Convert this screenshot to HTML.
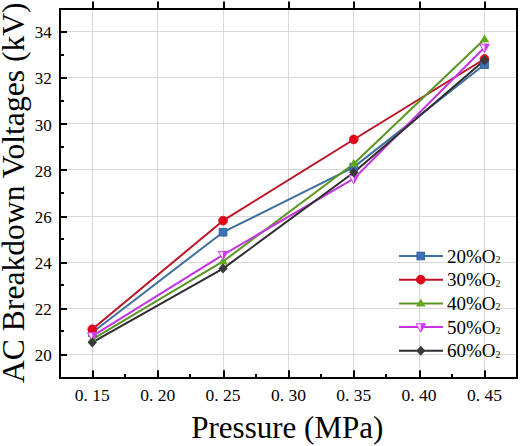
<!DOCTYPE html><html><head><meta charset="utf-8"><style>html,body{margin:0;padding:0;background:#fff;}svg{display:block;}</style></head><body>
<svg width="520" height="446" viewBox="0 0 520 446" font-family='"Liberation Serif", serif'>
<rect width="520" height="446" fill="#fff"/>
<path d="M92.50 9.00V378.00M157.50 9.00V378.00M223.50 9.00V378.00M288.50 9.00V378.00M353.50 9.00V378.00M419.50 9.00V378.00M484.50 9.00V378.00M60.00 354.50H517.00M60.00 308.50H517.00M60.00 262.50H517.00M60.00 216.50H517.00M60.00 169.50H517.00M60.00 123.50H517.00M60.00 77.50H517.00M60.00 31.50H517.00" stroke="#d8d8d8" stroke-width="1" fill="none"/>
<path d="M93.00 378.00V370.20M93.00 9.00V1.50M158.00 378.00V370.20M158.00 9.00V1.50M224.00 378.00V370.20M224.00 9.00V1.50M289.00 378.00V370.20M289.00 9.00V1.50M354.00 378.00V370.20M354.00 9.00V1.50M420.00 378.00V370.20M420.00 9.00V1.50M485.00 378.00V370.20M485.00 9.00V1.50M125.00 378.00V374.00M190.00 378.00V374.00M256.00 378.00V374.00M321.00 378.00V374.00M386.00 378.00V374.00M452.00 378.00V374.00M60.00 355.00H67.00M60.00 309.00H67.00M60.00 263.00H67.00M60.00 217.00H67.00M60.00 170.00H67.00M60.00 124.00H67.00M60.00 78.00H67.00M60.00 32.00H67.00M60.00 331.00H64.00M60.00 285.00H64.00M60.00 239.00H64.00M60.00 193.00H64.00M60.00 147.00H64.00M60.00 101.00H64.00M60.00 55.00H64.00" stroke="#000" stroke-width="2" fill="none"/>
<rect x="60.00" y="9.00" width="457.00" height="369.00" stroke="#000" stroke-width="2.0" fill="none"/>
<polyline points="92.30,332.49 223.03,232.18 353.76,167.15 484.49,64.54" stroke="#3f6f9f" stroke-width="2" fill="none" stroke-linejoin="round"/>
<polyline points="92.30,329.26 223.03,220.65 353.76,139.48 484.49,59.00" stroke="#bc1426" stroke-width="2" fill="none" stroke-linejoin="round"/>
<polyline points="92.30,339.41 223.03,261.47 353.76,163.69 484.49,39.17" stroke="#5a9622" stroke-width="2" fill="none" stroke-linejoin="round"/>
<polyline points="92.30,336.18 223.03,254.78 353.76,178.68 484.49,47.47" stroke="#c435e0" stroke-width="2" fill="none" stroke-linejoin="round"/>
<polyline points="92.30,342.41 223.03,268.62 353.76,172.46 484.49,60.15" stroke="#2e2e2e" stroke-width="2" fill="none" stroke-linejoin="round"/>
<rect x="88.40" y="328.59" width="7.80" height="7.80" fill="#3a72b5" stroke="#2f5f95" stroke-width="0.8"/>
<rect x="219.13" y="228.28" width="7.80" height="7.80" fill="#3a72b5" stroke="#2f5f95" stroke-width="0.8"/>
<rect x="349.86" y="163.25" width="7.80" height="7.80" fill="#3a72b5" stroke="#2f5f95" stroke-width="0.8"/>
<rect x="480.59" y="60.64" width="7.80" height="7.80" fill="#3a72b5" stroke="#2f5f95" stroke-width="0.8"/>
<circle cx="92.30" cy="329.26" r="4.4" fill="#e3061a" stroke="#c0101c" stroke-width="0.8"/>
<circle cx="223.03" cy="220.65" r="4.4" fill="#e3061a" stroke="#c0101c" stroke-width="0.8"/>
<circle cx="353.76" cy="139.48" r="4.4" fill="#e3061a" stroke="#c0101c" stroke-width="0.8"/>
<circle cx="484.49" cy="59.00" r="4.4" fill="#e3061a" stroke="#c0101c" stroke-width="0.8"/>
<polygon points="92.30,334.79 97.10,342.49 87.50,342.49" fill="#62a81a"/>
<polygon points="223.03,256.85 227.83,264.55 218.23,264.55" fill="#62a81a"/>
<polygon points="353.76,159.07 358.56,166.77 348.96,166.77" fill="#62a81a"/>
<polygon points="484.49,34.55 489.29,42.25 479.69,42.25" fill="#62a81a"/>
<polygon points="87.50,332.82 97.10,332.82 92.30,341.22" fill="#f8e8fb" stroke="#cf38ee" stroke-width="1"/><polygon points="92.30,332.82 97.10,332.82 92.30,341.22" fill="#cf38ee"/>
<polygon points="218.23,251.42 227.83,251.42 223.03,259.82" fill="#f8e8fb" stroke="#cf38ee" stroke-width="1"/><polygon points="223.03,251.42 227.83,251.42 223.03,259.82" fill="#cf38ee"/>
<polygon points="348.96,175.32 358.56,175.32 353.76,183.72" fill="#f8e8fb" stroke="#cf38ee" stroke-width="1"/><polygon points="353.76,175.32 358.56,175.32 353.76,183.72" fill="#cf38ee"/>
<polygon points="479.69,44.11 489.29,44.11 484.49,52.51" fill="#f8e8fb" stroke="#cf38ee" stroke-width="1"/><polygon points="484.49,44.11 489.29,44.11 484.49,52.51" fill="#cf38ee"/>
<polygon points="92.30,337.41 96.90,342.41 92.30,347.41 87.70,342.41" fill="#3a3a3a"/>
<polygon points="223.03,263.62 227.63,268.62 223.03,273.62 218.43,268.62" fill="#3a3a3a"/>
<polygon points="353.76,167.46 358.36,172.46 353.76,177.46 349.16,172.46" fill="#3a3a3a"/>
<polygon points="484.49,55.15 489.09,60.15 484.49,65.15 479.89,60.15" fill="#3a3a3a"/>
<text x="51.8" y="361.20" font-size="17" text-anchor="end">20</text>
<text x="51.8" y="315.08" font-size="17" text-anchor="end">22</text>
<text x="51.8" y="268.96" font-size="17" text-anchor="end">24</text>
<text x="51.8" y="222.84" font-size="17" text-anchor="end">26</text>
<text x="51.8" y="176.72" font-size="17" text-anchor="end">28</text>
<text x="51.8" y="130.60" font-size="17" text-anchor="end">30</text>
<text x="51.8" y="84.48" font-size="17" text-anchor="end">32</text>
<text x="51.8" y="38.36" font-size="17" text-anchor="end">34</text>
<text x="92.30" y="400.9" font-size="17.5" text-anchor="middle" xml:space="preserve">0. 15</text>
<text x="157.67" y="400.9" font-size="17.5" text-anchor="middle" xml:space="preserve">0. 20</text>
<text x="223.03" y="400.9" font-size="17.5" text-anchor="middle" xml:space="preserve">0. 25</text>
<text x="288.39" y="400.9" font-size="17.5" text-anchor="middle" xml:space="preserve">0. 30</text>
<text x="353.76" y="400.9" font-size="17.5" text-anchor="middle" xml:space="preserve">0. 35</text>
<text x="419.12" y="400.9" font-size="17.5" text-anchor="middle" xml:space="preserve">0. 40</text>
<text x="484.49" y="400.9" font-size="17.5" text-anchor="middle" xml:space="preserve">0. 45</text>
<path d="M399 256.00H443" stroke="#3f6f9f" stroke-width="2"/>
<rect x="416.90" y="252.10" width="7.80" height="7.80" fill="#3a72b5" stroke="#2f5f95" stroke-width="0.8"/>
<text x="447" y="262.60" font-size="19">20%O<tspan font-size="10" dy="0.3">2</tspan></text>
<path d="M399 279.70H443" stroke="#bc1426" stroke-width="2"/>
<circle cx="420.80" cy="279.70" r="4.4" fill="#e3061a" stroke="#c0101c" stroke-width="0.8"/>
<text x="447" y="286.30" font-size="19">30%O<tspan font-size="10" dy="0.3">2</tspan></text>
<path d="M399 303.40H443" stroke="#5a9622" stroke-width="2"/>
<polygon points="420.80,298.78 425.60,306.48 416.00,306.48" fill="#62a81a"/>
<text x="447" y="310.00" font-size="19">40%O<tspan font-size="10" dy="0.3">2</tspan></text>
<path d="M399 327.10H443" stroke="#c435e0" stroke-width="2"/>
<polygon points="416.00,323.74 425.60,323.74 420.80,332.14" fill="#f8e8fb" stroke="#cf38ee" stroke-width="1"/><polygon points="420.80,323.74 425.60,323.74 420.80,332.14" fill="#cf38ee"/>
<text x="447" y="333.70" font-size="19">50%O<tspan font-size="10" dy="0.3">2</tspan></text>
<path d="M399 350.80H443" stroke="#2e2e2e" stroke-width="2"/>
<polygon points="420.80,345.80 425.40,350.80 420.80,355.80 416.20,350.80" fill="#3a3a3a"/>
<text x="447" y="357.40" font-size="19">60%O<tspan font-size="10" dy="0.3">2</tspan></text>
<text x="191.3" y="437.9" font-size="31">Pressure (MPa)</text>
<text transform="translate(23.6,383) rotate(-90)" font-size="31.6">AC Breakdown Voltages (kV)</text>
</svg></body></html>
